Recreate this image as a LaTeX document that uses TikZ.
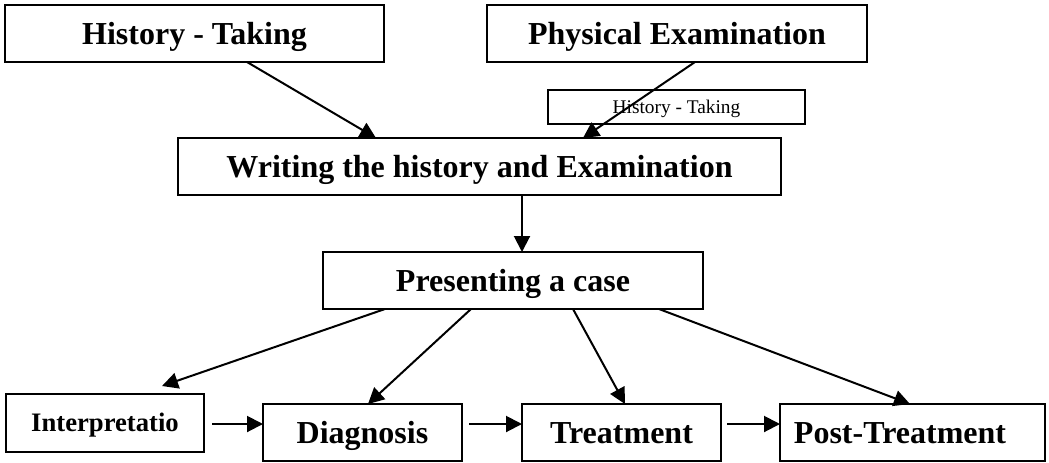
\documentclass[tikz,border=0pt]{standalone}
\usepackage{fontspec}
\setmainfont{Liberation Serif}
\usetikzlibrary{arrows.meta,calc}
\begin{document}
\begin{tikzpicture}[x=0.75pt,y=-0.75pt,
  box/.style={draw, line width=1.5pt, rectangle, inner sep=0pt, outer sep=0pt,
    minimum height=42.75pt, font=\fontsize{24}{28}\selectfont\bfseries,
    text height=15.9pt, text depth=0pt},
  smallbox/.style={box, minimum height=43.5pt,
    font=\fontsize{20}{24}\selectfont\bfseries, text height=13.2pt},
  notebox/.style={draw, line width=1pt, rectangle, inner sep=0pt, outer sep=0pt,
    minimum height=25.5pt, font=\fontsize{14.5}{17}\selectfont,
    text height=9.6pt, text depth=0pt},
  flow/.style={line width=1.5pt, -{Triangle[length=12pt,width=12pt]}}
]
\useasboundingbox (0,0) rectangle (1049,462);

% boxes
\node[box, minimum width=284.25pt] (hist)   at (194.5,33.5) {History - Taking};
\node[box, minimum width=285pt]    (phys)   at (677,33.5)   {Physical Examination};
\node[notebox, minimum width=192.75pt] (note) at (676.5,107) {History - Taking};
\node[box, minimum width=452.25pt] (write)  at (479.5,166.5) {Writing the history and Examination};
\node[box, minimum width=285pt]    (pres)   at (513,280.5)  {Presenting a case};
\node[smallbox, minimum width=148.5pt] (interp) at (105,423) {Interpretatio};
\node[box, minimum width=149.25pt] (diag)   at (362.5,432.5) {Diagnosis};
\node[box, minimum width=149.25pt] (treat)  at (621.5,432.5) {Treatment};
\node[box, minimum width=198.75pt] (post)   at (912.5,432.5) {Post-Treatment\hspace*{18.75pt}};

% free end above the interpretation box
\coordinate (interptip) at ($(interp.north)+(57,-8)$);

% connectors
\draw[flow] ($(hist.south)+(52.5,0)$) -- ($(write.north)+(-103.5,0)$);
\draw[flow] ($(phys.south)+(18,0)$) -- ($(write.north)+(103.5,0)$);
\draw[flow] ($(write.south)+(42.5,0)$) -- ($(pres.north)+(9,0)$);
\draw[flow] ($(pres.south)+(-128,0)$) -- (interptip);
\draw[flow] ($(pres.south)+(-42,0)$) -- ($(diag.north)+(5.5,0)$);
\draw[flow] ($(pres.south)+(60,0)$) -- ($(treat.north)+(3.5,0)$);
\draw[flow] ($(pres.south)+(146,0)$) -- ($(post.north)+(-2.5,0)$);
\draw[flow] ($(interp.east)+(8,1)$) -- ($(diag.west)+(0,-8.5)$);
\draw[flow] ($(diag.east)+(7,-8.5)$) -- ($(treat.west)+(0,-8.5)$);
\draw[flow] ($(treat.east)+(6,-8.5)$) -- ($(post.west)+(0,-8.5)$);
\end{tikzpicture}
\end{document}
